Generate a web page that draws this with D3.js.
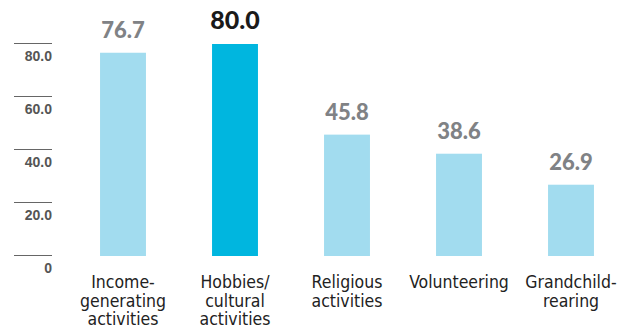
<!DOCTYPE html>
<html><head><meta charset="utf-8">
<script src="https://cdn.jsdelivr.net/npm/d3@7"></script>
<style>body{margin:0;background:#fff}svg{display:block}</style>
</head><body>
<svg id="c" width="623" height="328"></svg>
<script>
const categories = ["Income-generating activities","Hobbies/cultural activities","Religious activities","Volunteering","Grandchild-rearing"];
const labelLines = [["Income-","generating","activities"],["Hobbies/","cultural","activities"],["Religious","activities"],["Volunteering"],["Grandchild-","rearing"]];
const values = [76.7, 80.0, 45.8, 38.6, 26.9];
const highlight = [false, true, false, false, false];
const tickValues = [0, 20, 40, 60, 80];
const tickLabels = ["0", "20.0", "40.0", "60.0", "80.0"];

const svg = d3.select("#c");
const x = d3.scaleBand().domain(categories).range([67, 627]).paddingInner(0.59).paddingOuter(0.295);
const y = d3.scaleLinear().domain([0, 80]).range([256, 44]);

// gridlines / ticks
const g = svg.append("g");
tickValues.forEach((t, i) => {
  const yy = Math.round(y(t)) - 0.5;
  g.append("line").attr("x1", 14).attr("x2", 52).attr("y1", yy).attr("y2", yy)
    .attr("stroke", "#666").attr("stroke-width", 1);
  g.append("text").attr("x", 52).attr("y", y(t) + 17).attr("text-anchor", "end")
    .attr("font-family", "Liberation Sans, Arial, sans-serif").attr("font-weight", "bold")
    .attr("font-size", 14).attr("fill", "#555").text(tickLabels[i]);
});

// bars
svg.append("g").selectAll("rect").data(values).join("rect")
  .attr("x", (d, i) => x(categories[i]))
  .attr("width", x.bandwidth())
  .attr("y", d => y(d))
  .attr("height", d => y(0) - y(d))
  .attr("fill", (d, i) => highlight[i] ? "#00b6df" : "#a2dcef");

// value labels
svg.append("g").selectAll("text").data(values).join("text")
  .attr("x", (d, i) => x(categories[i]) + x.bandwidth() / 2)
  .attr("y", d => y(d) - 15)
  .attr("text-anchor", "middle")
  .attr("font-family", "Lato, sans-serif")
  .attr("font-weight", 900)
  .attr("font-size", (d, i) => highlight[i] ? 25 : 22)
  .attr("fill", (d, i) => highlight[i] ? "#1a1a1a" : "#808285")
  .text(d => d.toFixed(1));

// category labels
const cl = svg.append("g");
labelLines.forEach((lines, i) => {
  const t = cl.append("text")
    .attr("x", x(categories[i]) + x.bandwidth() / 2)
    .attr("y", 288)
    .attr("text-anchor", "middle")
    .attr("font-family", "'Liberation Sans Narrow', 'DejaVu Sans Condensed', 'Noto Sans', sans-serif")
    .attr("font-size", 17.5)
    .attr("fill", "#222");
  lines.forEach((ln, j) => {
    t.append("tspan").attr("x", x(categories[i]) + x.bandwidth() / 2)
      .attr("dy", j === 0 ? 0 : 18.5).text(ln);
  });
});
</script>
</body></html>
